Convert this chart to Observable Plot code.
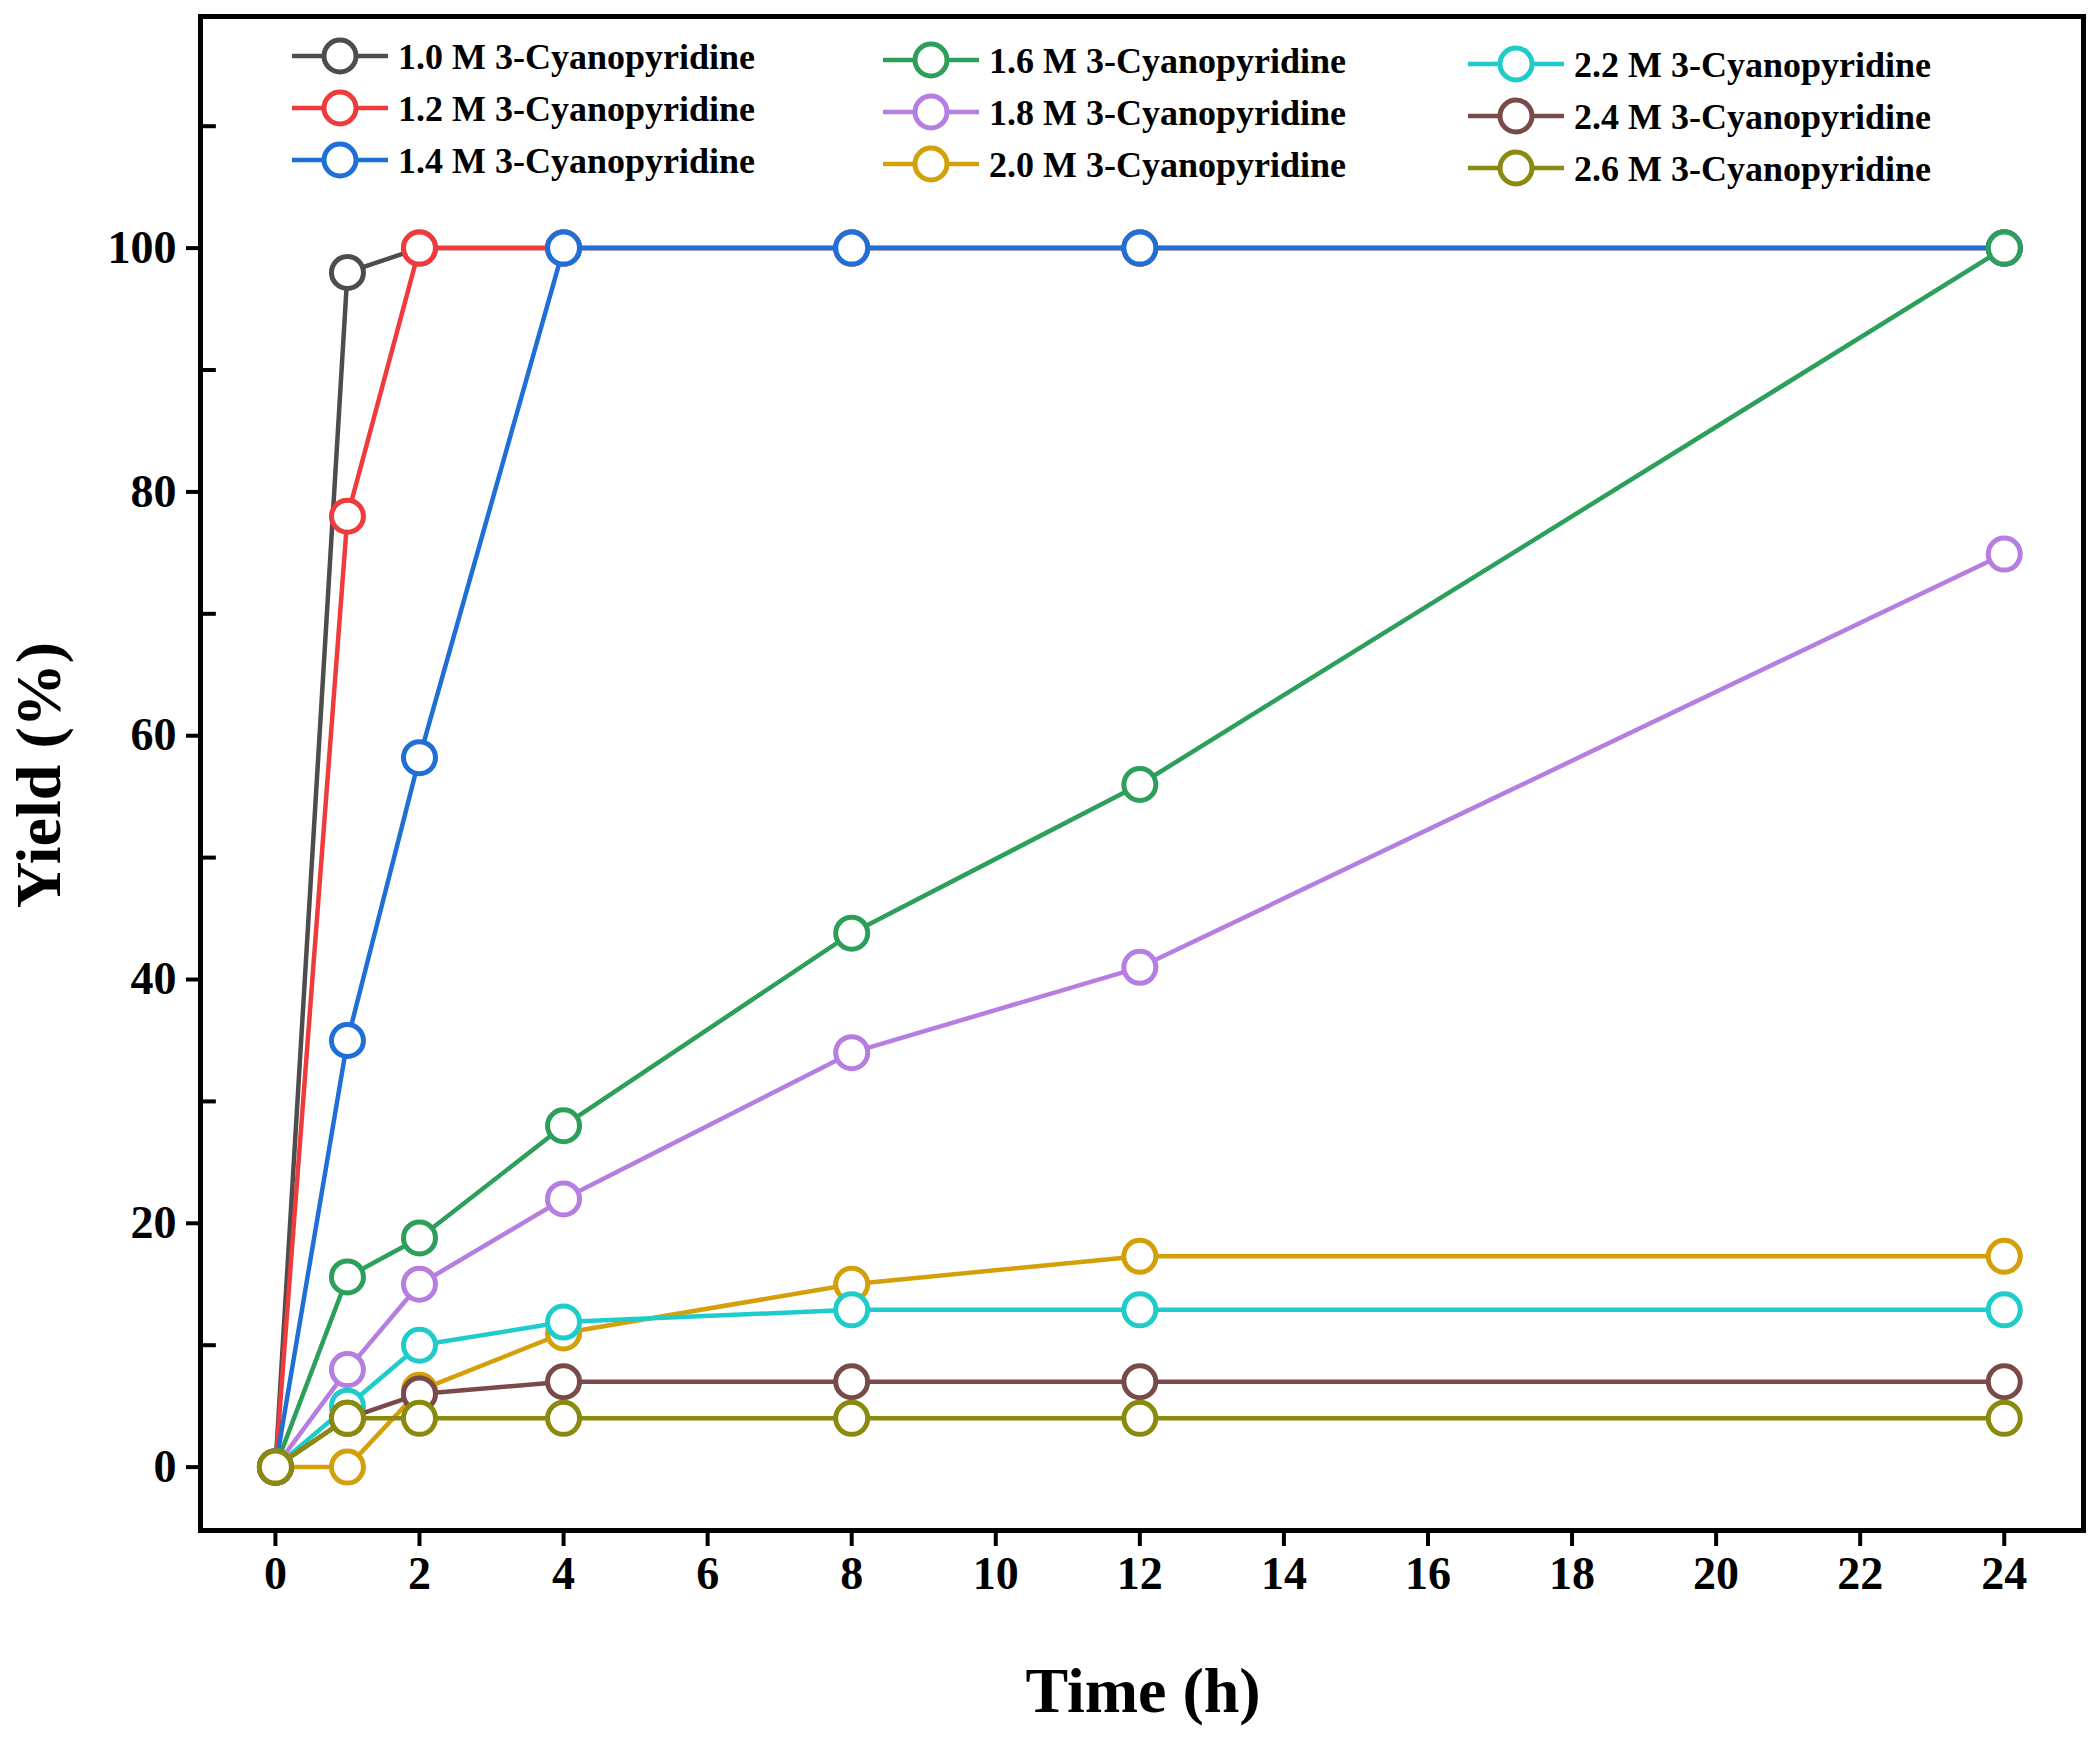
<!DOCTYPE html>
<html><head><meta charset="utf-8">
<script src="https://cdn.jsdelivr.net/npm/d3@7"></script>
<script src="https://cdn.jsdelivr.net/npm/@observablehq/plot@0.6"></script>
<style>body{margin:0;background:#fff}</style>
</head><body><div id="chart"></div>
<script>
const times = [0, 1, 2, 4, 8, 12, 24];
const seriesNames = ["1.0 M 3-Cyanopyridine","1.2 M 3-Cyanopyridine","1.4 M 3-Cyanopyridine","1.6 M 3-Cyanopyridine","1.8 M 3-Cyanopyridine","2.0 M 3-Cyanopyridine","2.2 M 3-Cyanopyridine","2.4 M 3-Cyanopyridine","2.6 M 3-Cyanopyridine"];
const colors = ["#4d4d4d","#ef3b3b","#1f6fd6","#2ca05a","#b57ee0","#d4a00a","#1fcccc","#7a4a48","#8a8a10"];
const y10 = [0, 98, 100, 100, 100, 100, 100];
const y12 = [0, 78, 100, 100, 100, 100, 100];
const y14 = [0, 35, 58.2, 100, 100, 100, 100];
const y16 = [0, 15.6, 18.8, 28, 43.8, 56, 100];
const y18 = [0, 8, 15, 22, 34, 41, 74.9];
const y20 = [0, 0, 6.3, 11, 15, 17.3, 17.3];
const y22 = [0, 5, 10, 11.9, 12.9, 12.9, 12.9];
const y24 = [0, 4, 6, 7, 7, 7, 7];
const y26 = [0, 4, 4, 4, 4, 4, 4];
const allY = [y10,y12,y14,y16,y18,y20,y22,y24,y26];
const xTicks = d3.range(0, 25, 2);
const yTicks = [0, 20, 40, 60, 80, 100];
const yMinor = [10, 30, 50, 70, 90, 110];

const data = [];
allY.forEach((ys, i) => ys.forEach((v, j) => data.push({s: seriesNames[i], t: times[j], y: v})));

const font = "'Liberation Serif', 'Times New Roman', serif";
const marks = [];
seriesNames.forEach((name, i) => {
  const d = data.filter(r => r.s === name);
  marks.push(Plot.line(d, {x: "t", y: "y", stroke: colors[i], strokeWidth: 4.5}));
  marks.push(Plot.dot(d, {x: "t", y: "y", r: 16, stroke: colors[i], strokeWidth: 5, fill: "white"}));
});

const chart = Plot.plot({
  width: 2096, height: 1740,
  marginLeft: 200, marginRight: 13, marginTop: 16, marginBottom: 210,
  style: {fontFamily: font, fontWeight: "bold", fontSize: "46px", color: "#000", background: "white"},
  x: {domain: [-1.04, 25.1]},
  y: {domain: [-5.2, 119]},
  marks: [
    Plot.axisX({ticks: xTicks, tickSize: 16, tickPadding: 10, tickFormat: d => d, label: null, strokeWidth: 4, fontSize: 46}),
    Plot.axisY({ticks: yTicks, tickSize: 14, tickPadding: 10, tickFormat: d => d, label: null, strokeWidth: 4, fontSize: 46}),
    Plot.ruleY(yMinor, {y: d => d, x1: -1.04, x2: -0.82, stroke: "black", strokeWidth: 4}),
    ...marks,
    Plot.frame({stroke: "black", strokeWidth: 5})
  ]
});
document.getElementById("chart").appendChild(chart);

const svg = d3.select(chart);
svg.append("text").attr("x", 1143).attr("y", 1712).attr("text-anchor", "middle")
  .style("font-family", font).style("font-weight", "bold").style("font-size", "64px").text("Time (h)");
svg.append("text").attr("transform", "translate(60,775) rotate(-90)").attr("text-anchor", "middle")
  .style("font-family", font).style("font-weight", "bold").style("font-size", "64px").text("Yield (%)");

const cols = [{x: 292, y: 56}, {x: 883, y: 60}, {x: 1468, y: 64}];
seriesNames.forEach((name, i) => {
  const c = cols[Math.floor(i / 3)], row = i % 3;
  const g = svg.append("g").attr("transform", `translate(${c.x},${c.y + row * 52})`);
  g.append("line").attr("x1", 0).attr("x2", 96).attr("stroke", colors[i]).attr("stroke-width", 4.5);
  g.append("circle").attr("cx", 48).attr("r", 16).attr("fill", "white").attr("stroke", colors[i]).attr("stroke-width", 5);
  g.append("text").attr("x", 106).attr("dy", "0.35em").attr("text-anchor", "start")
    .style("font-family", font).style("font-weight", "bold").style("font-size", "36px").text(name);
});
</script></body></html>
